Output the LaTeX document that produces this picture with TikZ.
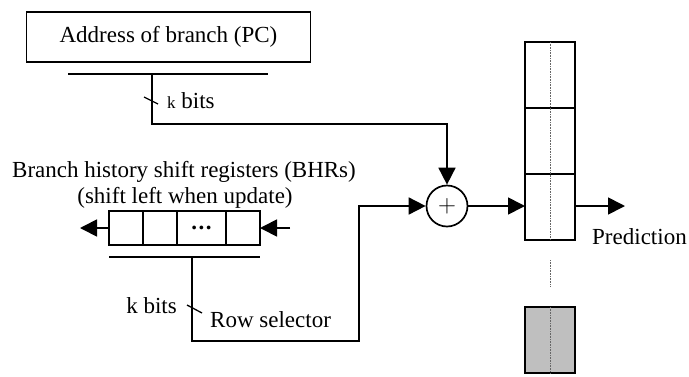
\documentclass[tikz,border=0pt]{standalone}
\usepackage{fontspec}
\setmainfont{Liberation Serif}
\usetikzlibrary{arrows.meta, positioning}

\begin{document}
\begin{tikzpicture}[x=1pt, y=-1pt,
      font=\fontsize{23}{26}\selectfont,
      wire/.style={line width=1.7pt},
      arrow/.style={wire, -{Triangle[length=17pt, width=17pt]}},
      box/.style={draw, line width=1.7pt, inner sep=0pt, outer sep=0pt},
      cell/.style={box, minimum width=34pt, minimum height=34pt},
      row/.style={box, minimum width=50pt, minimum height=66pt},
      sum/.style={draw, circle, line width=1.7pt, minimum size=41pt, inner sep=0pt},
      tag/.style={inner sep=0pt},
      guide/.style={densely dotted, line width=0.6pt, black!60}
    ]
    \useasboundingbox (0,0) rectangle (689,376);

    \node[box, minimum width=284pt, minimum height=50pt] (pc) at (168.5,37) {Address of branch (PC)};
    \coordinate (pcbusL) at (68,74);
    \coordinate (pcbusR) at (268,74);
    \coordinate (pctap) at (152,74);

    \node (bhrtitle) at (184,172) {Branch history shift registers (BHRs)};
    \node (bhrnote) at (185,198) {(shift left when update)};
    \node[cell] (b1) at (126,228) {};
    \node[cell, right=0pt of b1] (b2) {};
    \node[cell, minimum width=49pt, right=0pt of b2] (b3) {\textbf{.\kern1.5pt.\kern1.5pt.}};
    \node[cell, right=0pt of b3] (b4) {};
    \coordinate (shiftout) at (80,228);
    \coordinate (shiftin) at (290,228);
    \coordinate (bhrbusL) at (109,257);
    \coordinate (bhrbusR) at (260,257);
    \coordinate (bhrtap) at (192,257);
    \coordinate (rowturn) at (359,341);

    \node[sum] (sum) at (447,206) {$+$};

    \node[row] (r1) at (550,75) {};
    \node[row, below=0pt of r1] (r2) {};
    \node[row, below=0pt of r2] (r3) {};
    \node[row, fill=black!25] (rn) at (550,340) {};
    \coordinate (gapT) at (550,260);
    \coordinate (gapB) at (550,287);
    \coordinate (predout) at (625,206);

    % buses and index paths
    \draw[wire] (pcbusL) -- (pcbusR);
    \draw[arrow] (pctap) -- ++(0,50) -| (sum.north);
    \draw[wire, line width=1.3pt] (144,97) -- (158,104);
    \node[tag, anchor=west] (pcbits) at (167,101) {{\fontsize{17}{20}\selectfont k} bits};

    \draw[arrow] (b1.west) -- (shiftout);
    \draw[arrow] (shiftin) -- (b4.east);
    \draw[wire] (bhrbusL) -- (bhrbusR);
    \draw[arrow] (bhrtap) |- (rowturn) |- (sum.west);
    \draw[wire, line width=1.3pt] (187,305) -- (202,313);
    \node[tag, anchor=east] (bhrbits) at (177,306) {k bits};
    \node[tag, anchor=west] (rowsel) at (210,320) {Row selector};

    % pattern table
    \draw[guide] (r1.north) -- (r3.south);
    \draw[guide] (gapT) -- (gapB);
    \draw[guide] (rn.north) -- (rn.south);
    \draw[arrow] (sum.east) -- (sum.east -| r3.west);
    \draw[arrow] (sum.east -| r3.east) -- (predout);
    \node[tag, anchor=west] (predlabel) at (592,237) {Prediction};
  \end{tikzpicture}
\end{document}
